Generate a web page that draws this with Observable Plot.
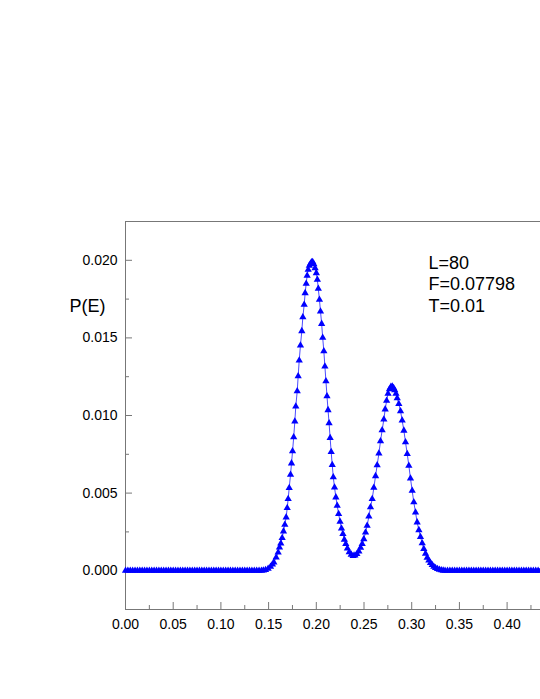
<!DOCTYPE html>
<html><head><meta charset="utf-8">
<script src="https://cdn.jsdelivr.net/npm/d3@7"></script>
<script src="https://cdn.jsdelivr.net/npm/@observablehq/plot@0.6"></script>
<style>
html,body{margin:0;padding:0;background:#fff;}
#chart{width:540px;height:699px;overflow:hidden;}
</style>
</head><body><div id="chart"></div>
<script>
// ---- data ----
const tailLeftE = [0,0.0025,0.005,0.0075,0.01,0.0125,0.015,0.0175,0.02,0.0225,0.025,0.0275,0.03,0.0325,0.035,0.0375,0.04,0.0425,0.045,0.0475,0.05,0.0525,0.055,0.0575,0.06,0.0625,0.065,0.0675,0.07,0.0725,0.075,0.0775,0.08,0.0825,0.085,0.0875,0.09,0.0925,0.095,0.0975,0.1,0.1025,0.105,0.1075,0.11,0.1125,0.115,0.1175,0.12,0.1225,0.125,0.1275,0.13,0.1325,0.135,0.1375,0.14,0.1425];
const peakE = [0.1445,0.1468,0.1495,0.1520,0.1540,0.1555,0.1579,0.1600,0.1614,0.1628,0.1642,0.1656,0.1670,0.1684,0.1695,0.1705,0.1716,0.1730,0.1740,0.1751,0.1763,0.1775,0.1785,0.1800,0.1810,0.1821,0.1834,0.1848,0.1859,0.1873,0.1883,0.1894,0.1904,0.1915,0.1927,0.1939,0.1950,0.1962,
0.1974,0.1987,0.2000,0.2011,0.2021,0.2033,0.2044,0.2056,0.2067,0.2079,0.2090,0.2101,0.2112,0.2123,0.2134,0.2145,0.2156,0.2167,0.2178,0.2191,0.2205,0.2219,0.2234,0.2249,0.2264,0.2279,0.2294,0.2309,0.2326,0.2345,0.2366,0.2386,0.2405,
0.2425,0.2446,0.2464,0.2481,0.2498,0.2516,0.2533,0.2551,0.2568,0.2586,0.2603,0.2621,0.2638,0.2656,0.2673,0.2690,0.2708,0.2722,0.2737,0.2752,0.2767,0.2782,0.2796,0.2810,0.2822,0.2835,0.2848,0.2865,0.2883,0.2900,0.2918,0.2935,0.2953,0.2970,0.2987,0.3005,0.3022,0.3040,0.3057,0.3075,0.3092,0.3110,0.3127,0.3145,0.3162,0.3180,0.3197,0.3215,0.3232,0.3250,0.3270,0.3290,0.3310,0.3330];
const peakP = [0.00002,0.00005,0.00013,0.00026,0.00040,0.00054,0.00086,0.00118,0.00150,0.00176,0.00211,0.00254,0.00297,0.00344,0.00404,0.00462,0.00533,0.00619,0.00692,0.00770,0.00860,0.00962,0.01058,0.01157,0.01254,0.01355,0.01452,0.01544,0.01634,0.01714,0.01789,0.01850,0.01901,0.01940,0.01965,0.01978,0.01988,0.01989,
0.01975,0.01950,0.01918,0.01875,0.01817,0.01746,0.01671,0.01591,0.01501,0.01415,0.01316,0.01221,0.01125,0.01035,0.00950,0.00855,0.00765,0.00682,0.00602,0.00537,0.00473,0.00419,0.00366,0.00316,0.00273,0.00237,0.00200,0.00172,0.00144,0.00120,0.00104,0.00096,0.00098,
0.00108,0.00125,0.00148,0.00172,0.00204,0.00247,0.00290,0.00350,0.00409,0.00462,0.00535,0.00610,0.00680,0.00755,0.00835,0.00905,0.00975,0.01040,0.01095,0.01140,0.01170,0.01185,0.01187,0.01178,0.01163,0.01140,0.01112,0.01075,0.01028,0.00968,0.00903,0.00828,0.00753,0.00677,0.00595,0.00516,0.00441,0.00376,0.00312,0.00262,0.00218,0.00178,0.00140,0.00110,0.00084,0.00066,0.00050,0.00037,0.00026,0.00018,0.00011,0.00006,0.00003,0.00001];
const tailRightE = [0.335,0.3375,0.34,0.3425,0.345,0.3475,0.35,0.3525,0.355,0.3575,0.36,0.3625,0.365,0.3675,0.37,0.3725,0.375,0.3775,0.38,0.3825,0.385,0.3875,0.39,0.3925,0.395,0.3975,0.4,0.4025,0.405,0.4075,0.41,0.4125,0.415,0.4175,0.42,0.4225,0.425,0.4275,0.43,0.4325,0.435];

const xMajorTicks = [0,0.05,0.10,0.15,0.20,0.25,0.30,0.35,0.40];
const xMinorTicks = [0.025,0.075,0.125,0.175,0.225,0.275,0.325,0.375,0.425];
const yMajorTicks = [0,0.005,0.010,0.015,0.020];
const yMinorTicks = [0.0025,0.0075,0.0125,0.0175];
const xDomain = [0, 0.435];
const yDomain = [-0.0025, 0.0225];
const yLabel = "P(E)";
const annotation = ["L=80", "F=0.07798", "T=0.01"];

// ---- build table ----
const data = [
  ...tailLeftE.map(e => ({E: e, P: 0})),
  ...peakE.map((e, i) => ({E: e, P: peakP[i]})),
  ...tailRightE.map(e => ({E: e, P: 0}))
];

const W = 540, H = 699, mTop = 221, mLeft = 125, mRight = 0, mBottom = 90;
const plotW = W - mLeft - mRight, plotH = H - mTop - mBottom;
const axisColor = "#777";
const blue = "#0000ff";

const chart = Plot.plot({
  width: W, height: H,
  marginTop: mTop, marginLeft: mLeft, marginRight: mRight, marginBottom: mBottom,
  style: {fontFamily: "'Liberation Sans', Arial, Helvetica, sans-serif", fontSize: "14px", color: "#000", background: "#fff", overflow: "visible"},
  x: {domain: xDomain},
  y: {domain: yDomain},
  marks: [
    // frame lines
    Plot.ruleX([xDomain[0]], {stroke: axisColor}),
    Plot.ruleY([yDomain[0]], {stroke: axisColor}),
    Plot.ruleY([yDomain[1]], {stroke: axisColor}),
    // inward ticks
    Plot.tickX(xMajorTicks, {x: d => d, insetTop: plotH - 7, stroke: axisColor}),
    Plot.tickX(xMinorTicks, {x: d => d, insetTop: plotH - 4, stroke: axisColor}),
    Plot.tickY(yMajorTicks, {y: d => d, insetRight: plotW - 7, stroke: axisColor}),
    Plot.tickY(yMinorTicks, {y: d => d, insetRight: plotW - 4, stroke: axisColor}),
    // labels
    Plot.axisX({ticks: xMajorTicks, tickSize: 0, tickPadding: 10, tickFormat: d3.format(".2f"), label: null, fontSize: 14, fill: "#000"}),
    Plot.axisY({ticks: yMajorTicks, tickSize: 0, tickPadding: 8, tickFormat: d3.format(".3f"), label: null, fontSize: 14, fill: "#000"}),
    // series
    Plot.line(data, {x: "E", y: "P", stroke: blue, strokeWidth: 1, strokeOpacity: 0.7}),
    Plot.dot(data, {x: "E", y: "P", symbol: "triangle", r: 2.7, fill: blue, stroke: "none"}),
    // y label
    Plot.text([yLabel], {text: d => d, frameAnchor: "top-left", dx: -56, dy: 78, textAnchor: "start", fontSize: 18, fill: "#000"}),
    // annotation
    Plot.text([annotation.join("\n")], {text: d => d, frameAnchor: "top-left", dx: 303, dy: 32, textAnchor: "start", lineAnchor: "top", lineHeight: 1.2, fontSize: 18, fill: "#000"})
  ]
});
document.getElementById("chart").appendChild(chart);
</script>
</body></html>
